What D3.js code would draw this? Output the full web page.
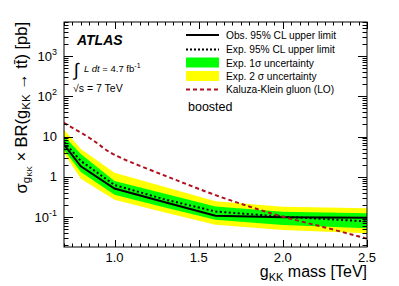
<!DOCTYPE html>
<html>
<head>
<meta charset="utf-8">
<script src="https://cdn.jsdelivr.net/npm/d3@7"></script>
<style>
  body { margin: 0; background: #fff; }
  text { font-family: 'Liberation Sans', Arial, sans-serif; }
</style>
</head>
<body>
<div id="chart"></div>
<script>
// g_KK mass points [TeV] and limits [pb]
const mass = [0.7, 0.8, 1.0, 1.3, 1.6, 2.0, 2.5];
const observed = [6.27, 1.82, 0.51, 0.234, 0.108, 0.099, 0.096];
const expected = [7.32, 2.47, 0.625, 0.273, 0.137, 0.102, 0.078];
const band1Lo = [4.71, 1.32, 0.359, 0.172, 0.0859, 0.0634, 0.0525];
const band1Hi = [10.1, 3.68, 0.787, 0.376, 0.183, 0.136, 0.124];
const band2Lo = [3.9, 0.89, 0.27, 0.129, 0.0645, 0.0477, 0.0395];
const band2Hi = [14.8, 4.91, 1.26, 0.558, 0.245, 0.181, 0.165];

// Kaluza-Klein gluon theory curve
const kkMass = [0.7, 0.8, 0.9, 1.0, 1.2, 1.4, 1.6, 1.8, 2.0, 2.25, 2.5];
const kkXsec = [21.7, 12.5, 6.7, 3.5, 1.55, 0.73, 0.35, 0.183, 0.102, 0.055, 0.029];

const xTicks = [1.0, 1.5, 2.0, 2.5];
const yTicks = [0.1, 1, 10, 100, 1000];
const yTickLabels = [['10', '-1'], ['1', ''], ['10', ''], ['10', '2'], ['10', '3']];

const width = 399, height = 286;
const pLeft = 64, pRight = 367, pTop = 22, pBottom = 247;

const x = d3.scaleLinear().domain([0.7, 2.5]).range([pLeft, pRight]);
const y = d3.scaleLog().domain([0.018, 7000]).range([pBottom, pTop]);

const svg = d3.select('#chart').append('svg')
  .attr('width', width).attr('height', height);

svg.append('clipPath').attr('id', 'clip')
  .append('rect').attr('x', pLeft).attr('y', pTop)
  .attr('width', pRight - pLeft).attr('height', pBottom - pTop);

const plot = svg.append('g').attr('clip-path', 'url(#clip)');

const rows = mass.map((m, i) => ({ m, i }));

const band = (lo, hi) => d3.area()
  .x((d) => x(d.m))
  .y0((d) => y(lo[d.i]))
  .y1((d) => y(hi[d.i]));

plot.append('path').attr('d', band(band2Lo, band2Hi)(rows)).attr('fill', '#ffff00');
plot.append('path').attr('d', band(band1Lo, band1Hi)(rows)).attr('fill', '#00ff00');

const line = (vals) => d3.line().x((d) => x(d.m)).y((d) => y(vals[d.i]));

plot.append('path').attr('d', line(expected)(rows))
  .attr('fill', 'none').attr('stroke', '#000').attr('stroke-width', 2)
  .attr('stroke-dasharray', '2,2.5');

plot.append('path').attr('d', line(observed)(rows))
  .attr('fill', 'none').attr('stroke', '#000').attr('stroke-width', 2);

const kkRows = kkMass.map((m, i) => ({ m, i }));
plot.append('path')
  .attr('d', d3.line().curve(d3.curveNatural)
    .x((d) => x(d.m)).y((d) => y(kkXsec[d.i]))(kkRows))
  .attr('fill', 'none').attr('stroke', '#b01020').attr('stroke-width', 2)
  .attr('stroke-dasharray', '4,3');

// frame
svg.append('rect').attr('x', pLeft).attr('y', pTop)
  .attr('width', pRight - pLeft).attr('height', pBottom - pTop)
  .attr('fill', 'none').attr('stroke', '#000').attr('stroke-width', 1);

const ticks = svg.append('g').attr('stroke', '#000').attr('stroke-width', 1);

// x ticks, every 0.05, major at 0.5
d3.range(14, 51).map((k) => k * 0.05).forEach((v) => {
  const major = Math.abs(v * 2 - Math.round(v * 2)) < 1e-6;
  const len = major ? 7 : 3.5;
  const px = Math.round(x(v)) + 0.5;
  ticks.append('line').attr('x1', px).attr('x2', px).attr('y1', pBottom).attr('y2', pBottom - len);
  ticks.append('line').attr('x1', px).attr('x2', px).attr('y1', pTop).attr('y2', pTop + len);
});

// y ticks, log decades
const yAll = [];
for (let e = -2; e <= 3; e++) {
  for (let k = 1; k <= 9; k++) {
    const v = k * Math.pow(10, e);
    if (v >= 0.018 && v <= 7000) yAll.push({ v, major: k === 1 });
  }
}
yAll.forEach(({ v, major }) => {
  const len = major ? 9 : 4.5;
  const py = Math.round(y(v)) + 0.5;
  ticks.append('line').attr('x1', pLeft).attr('x2', pLeft + len).attr('y1', py).attr('y2', py);
  ticks.append('line').attr('x1', pRight).attr('x2', pRight - len).attr('y1', py).attr('y2', py);
});

// tick labels
svg.selectAll('.xl').data(xTicks).join('text')
  .attr('x', (d) => x(d)).attr('y', 261.5)
  .attr('text-anchor', 'middle').attr('font-size', 13)
  .text((d) => d.toFixed(1));

yTicks.forEach((v, i) => {
  const [base, sup] = yTickLabels[i];
  const t = svg.append('text').attr('x', 57).attr('y', y(v) + 4.5)
    .attr('text-anchor', 'end').attr('font-size', 13);
  t.append('tspan').text(base);
  if (sup) t.append('tspan').attr('font-size', 9).attr('dy', -6).text(sup);
});

// axis titles
const xt = svg.append('text').attr('x', pRight).attr('y', 277)
  .attr('text-anchor', 'end').attr('font-size', 16);
xt.append('tspan').text('g');
xt.append('tspan').attr('font-size', 11).attr('dy', 4).text('KK');
xt.append('tspan').attr('dy', -4).text(' mass [TeV]');

const yt = svg.append('text')
  .attr('transform', `translate(27,${pTop}) rotate(-90)`)
  .attr('text-anchor', 'end').attr('font-size', 16.5);
yt.append('tspan').text('σ');
yt.append('tspan').attr('font-size', 11.5).attr('dy', 3).text('g');
yt.append('tspan').attr('font-size', 8).attr('dy', 2).text('KK');
yt.append('tspan').attr('dy', -5).text(' × BR(g');
yt.append('tspan').attr('font-size', 11.5).attr('dy', 3).text('KK');
yt.append('tspan').attr('dy', -3).text(' → t\u0074\u0304) [pb]');

// ATLAS label
svg.append('text').attr('x', 77).attr('y', 45)
  .attr('font-size', 14).attr('font-weight', 'bold').attr('font-style', 'italic')
  .text('ATLAS');

svg.append('text').attr('x', 74).attr('y', 76).attr('font-size', 18).text('∫');
const lumi = svg.append('text').attr('x', 84).attr('y', 72).attr('font-size', 9.5);
lumi.append('tspan').attr('font-style', 'italic').text('L dt');
lumi.append('tspan').text(' = 4.7 fb');
lumi.append('tspan').attr('font-size', 7).attr('dy', -4).text('-1');

svg.append('text').attr('x', 73).attr('y', 92).attr('font-size', 10.5).text('√s = 7 TeV');

// legend
const legendItems = [
  { label: 'Obs. 95% CL upper limit', type: 'solid' },
  { label: 'Exp. 95% CL upper limit', type: 'dotted' },
  { label: 'Exp. 1σ uncertainty', type: 'box', color: '#00ff00' },
  { label: 'Exp. 2 σ uncertainty', type: 'box', color: '#ffff00' },
  { label: 'Kaluza-Klein gluon (LO)', type: 'dashed' },
];
const legendY = [35, 49.5, 63, 76.5, 89.5];

const legend = svg.append('g');
legendItems.forEach((d, i) => {
  const ly = legendY[i];
  if (d.type === 'box') {
    legend.append('rect').attr('x', 186).attr('y', ly - 5.5)
      .attr('width', 33).attr('height', 10).attr('fill', d.color);
  } else {
    legend.append('line').attr('x1', 186).attr('x2', 219).attr('y1', ly).attr('y2', ly)
      .attr('stroke', d.type === 'dashed' ? '#b01020' : '#000')
      .attr('stroke-width', 2)
      .attr('stroke-dasharray', d.type === 'dotted' ? '2,2' : d.type === 'dashed' ? '4,3' : null);
  }
  legend.append('text').attr('x', 226).attr('y', ly + 3.5)
    .attr('font-size', 10.2).text(d.label);
});

svg.append('text').attr('x', 188).attr('y', 111).attr('font-size', 12.5).text('boosted');
</script>
</body>
</html>
